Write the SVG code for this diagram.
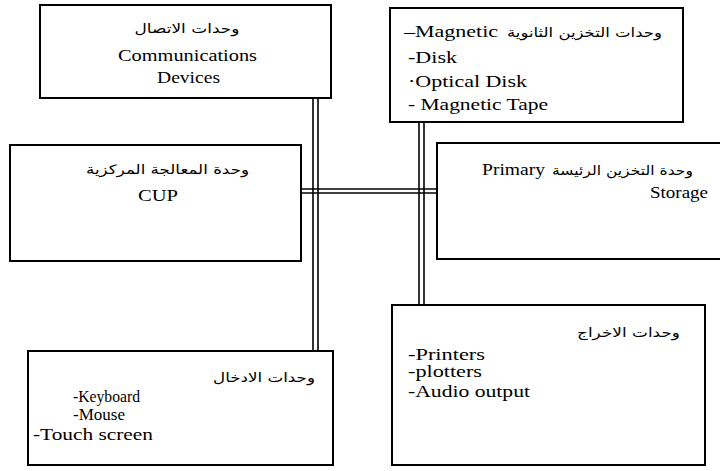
<svg xmlns="http://www.w3.org/2000/svg" width="720" height="471" viewBox="0 0 720 471">
<style>
.box{fill:#fff;stroke:#000;stroke-width:2}
.ln{stroke:#000;stroke-width:1.6;fill:none}
text{font-family:"Liberation Serif","DejaVu Sans",serif;font-size:16px;fill:#000}
.ar{font-family:"DejaVu Sans","Liberation Serif",sans-serif;font-size:13px}
.m{text-anchor:middle}
</style>
<rect width="720" height="471" fill="#fff"/>
<g id="connectors">
<line class="ln" x1="313" y1="98" x2="313" y2="351"/>
<line class="ln" x1="318" y1="98" x2="318" y2="351"/>
<line class="ln" x1="419" y1="122" x2="419" y2="305"/>
<line class="ln" x1="424" y1="122" x2="424" y2="305"/>
<line class="ln" x1="301" y1="189" x2="437" y2="189"/>
<line class="ln" x1="301" y1="193" x2="437" y2="193"/>
</g>
<g id="comm">
<rect class="box" x="40" y="5" width="291" height="93"/>
<text class="ar m" x="187" y="33" textLength="105" lengthAdjust="spacingAndGlyphs">وحدات الاتصال</text>
<text class="m" x="187.5" y="61" textLength="139" lengthAdjust="spacingAndGlyphs">Communications</text>
<text class="m" x="188.5" y="83" textLength="63" lengthAdjust="spacingAndGlyphs">Devices</text>
</g>
<g id="secondary">
<rect class="box" x="390" y="8" width="293" height="114"/>
<text x="404" y="37" textLength="94" lengthAdjust="spacingAndGlyphs">–Magnetic</text>
<text class="ar m" x="584.5" y="37" textLength="155" lengthAdjust="spacingAndGlyphs">وحدات التخزين الثانوية</text>
<text x="408" y="63" textLength="49" lengthAdjust="spacingAndGlyphs">-Disk</text>
<text x="408" y="87" textLength="119" lengthAdjust="spacingAndGlyphs">·Optical  Disk</text>
<text x="408" y="110" textLength="140" lengthAdjust="spacingAndGlyphs">- Magnetic Tape</text>
</g>
<g id="cpu">
<rect class="box" x="10" y="145" width="291" height="116"/>
<text class="ar m" x="167.5" y="174" textLength="163" lengthAdjust="spacingAndGlyphs">وحدة المعالجة المركزية</text>
<text class="m" x="158" y="201" textLength="40" lengthAdjust="spacingAndGlyphs">CUP</text>
</g>
<g id="primary">
<rect class="box" x="437" y="143" width="290" height="116"/>
<text x="482" y="175" textLength="63" lengthAdjust="spacingAndGlyphs">Primary</text>
<text class="ar m" x="622.5" y="175" textLength="141" lengthAdjust="spacingAndGlyphs">وحدة التخزين الرئيسة</text>
<text x="650" y="198" textLength="58" lengthAdjust="spacingAndGlyphs">Storage</text>
</g>
<g id="input">
<rect class="box" x="28" y="351" width="305" height="114"/>
<text class="ar m" x="264" y="382" textLength="102" lengthAdjust="spacingAndGlyphs">وحدات الادخال</text>
<text x="73" y="402" textLength="67" lengthAdjust="spacingAndGlyphs">-Keyboard</text>
<text x="73" y="420" textLength="52" lengthAdjust="spacingAndGlyphs">-Mouse</text>
<text x="33" y="440" textLength="120" lengthAdjust="spacingAndGlyphs">-Touch screen</text>
</g>
<g id="output">
<rect class="box" x="392" y="305" width="313" height="160"/>
<text class="ar m" x="628.5" y="337" textLength="103" lengthAdjust="spacingAndGlyphs">وحدات الاخراج</text>
<text x="408" y="360" textLength="77" lengthAdjust="spacingAndGlyphs">-Printers</text>
<text x="408" y="377" textLength="74" lengthAdjust="spacingAndGlyphs">-plotters</text>
<text x="408" y="397" textLength="122" lengthAdjust="spacingAndGlyphs">-Audio output</text>
</g>
</svg>
